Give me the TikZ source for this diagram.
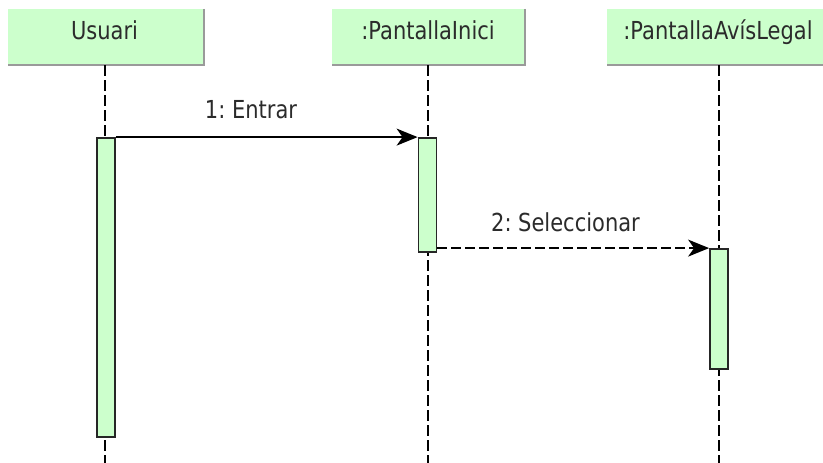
\documentclass[tikz,border=0pt]{standalone}
\usepackage{fontspec}
\setmainfont{DejaVu Sans}
\usetikzlibrary{arrows.meta}
\definecolor{umlgreen}{HTML}{CCFFCC}
\definecolor{umledge}{HTML}{9A9A9A}
\definecolor{umltext}{HTML}{2B2B2B}
\newcommand{\umllabel}[1]{\scalebox{1}[1.18]{#1}}
\begin{document}
\frenchspacing
\begin{tikzpicture}[x=1pt,y=-1pt,
  font=\fontsize{21}{25}\selectfont,
  header/.style={rectangle, fill=umlgreen, inner sep=0pt, minimum height=56pt},
  headertext/.style={anchor=base, text=umltext, inner sep=0pt},
  lifeline/.style={line width=1.8pt, dash pattern=on 11pt off 4pt},
  actbar/.style={rectangle, draw=black!85, line width=1.8pt, fill=umlgreen, inner sep=0pt, minimum width=18pt},
  msg/.style={line width=1.8pt, -{Stealth[length=21pt,width=17pt,inset=6pt]}},
  msglabel/.style={anchor=base, text=umltext, inner sep=0pt}
]
\useasboundingbox (0,0) rectangle (823,463);

% participant heads
\node[header, minimum width=196pt] (h1) at (106,37) {};
\node[header, minimum width=193pt] (h2) at (428.5,37) {};
\node[header, minimum width=223pt] (h3) at (718.5,37) {};
\foreach \h in {h1,h2,h3}
  \draw[umledge, line width=1.6pt] (\h.north east) -- (\h.south east) -- (\h.south west);
\node[headertext] (t1) at (104.5,39) {\umllabel{Usuari}};
\node[headertext] (t2) at (428,39) {\umllabel{:PantallaInici}};
\node[headertext] (t3) at (718,39) {\umllabel{:PantallaAvísLegal}};

% lifeline ends
\coordinate (e1) at (105,463);
\coordinate (e2) at (428,463);
\coordinate (e3) at (719,463);
\draw[lifeline] (h1.south -| e1) -- (e1);
\draw[lifeline] (h2.south -| e2) -- (e2);
\draw[lifeline] (h3.south -| e3) -- (e3);

% activation bars
\node[actbar, minimum height=299pt] (b1) at (106,287.5) {};
\node[actbar, minimum height=114pt] (b2) at (427.5,195) {};
\node[actbar, minimum height=120pt] (b3) at (719,309) {};

% messages
\draw[msg] (b1.north east) -- (b2.north west);
\node[msglabel] (l1) at (251,118) {\umllabel{1: Entrar}};
\draw[msg, dash pattern=on 10pt off 4pt] (b2.east |- b3.north) -- (b3.north west);
\node[msglabel] (l2) at (565.5,231.5) {\umllabel{2: Seleccionar}};
\end{tikzpicture}
\end{document}
